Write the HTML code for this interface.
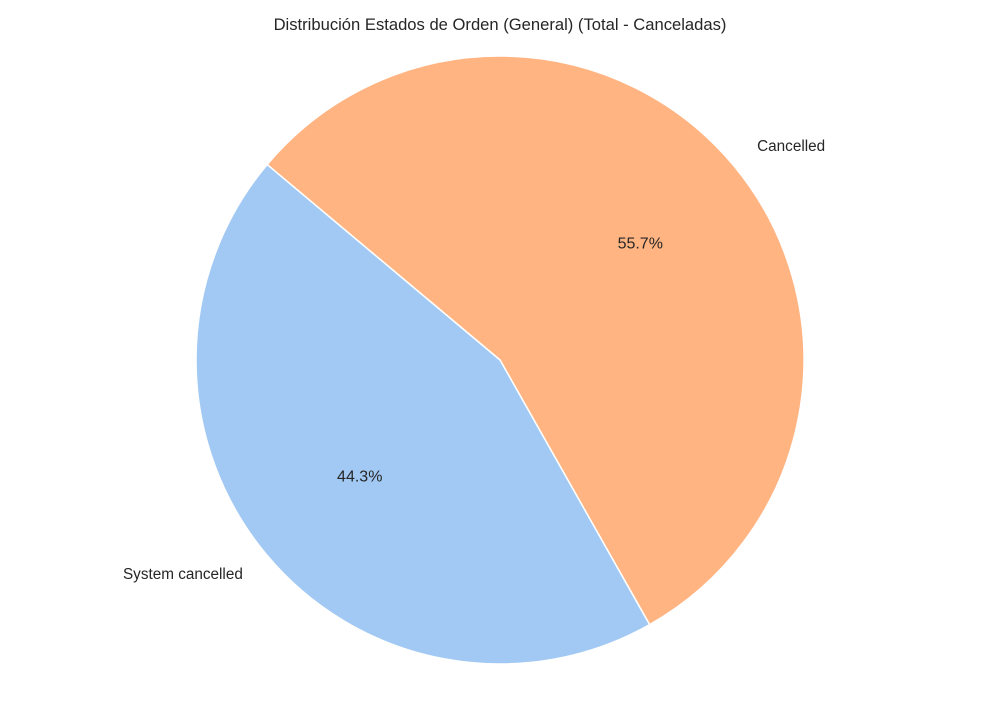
<!DOCTYPE html>
<html><head><meta charset="utf-8"><style>
body{margin:0;background:#fff;}
svg text{font-family:"Liberation Sans",sans-serif;fill:#262626;}
</style></head><body>
<svg id="chart" width="1000" height="700">
<text x="500" y="30" text-anchor="middle" font-size="16.6">Distribución Estados de Orden (General) (Total - Canceladas)</text>
<g id="slices"></g>
</svg>
<script>
const categories = ["Cancelled", "System cancelled"];
const values = [55.7, 44.3];
const colors = ["#ffb482", "#a1c9f4"];
const cx = 500, cy = 360, R = 304, startAngle = 140;
const ns = "http://www.w3.org/2000/svg";
const g = document.getElementById("slices");
const total = values.reduce((a,b)=>a+b,0);
let a0 = startAngle;
function pt(deg, r){const t=deg*Math.PI/180;return [cx+r*Math.cos(t), cy-r*Math.sin(t)];}
values.forEach((v,i)=>{
  const sweep = v/total*360;
  const a1 = a0 - sweep;
  const p0 = pt(a0,R), p1 = pt(a1,R);
  const path = document.createElementNS(ns,"path");
  path.setAttribute("d",`M${cx},${cy} L${p0[0]},${p0[1]} A${R},${R} 0 ${sweep>180?1:0} 1 ${p1[0]},${p1[1]} Z`);
  path.setAttribute("fill",colors[i]);
  path.setAttribute("stroke","#fff");
  path.setAttribute("stroke-width","1.5");
  
  
  g.appendChild(path);
  const mid = (a0+a1)/2;
  const lp = pt(mid, R*1.1);
  const lab = document.createElementNS(ns,"text");
  lab.setAttribute("x",lp[0]); lab.setAttribute("y",lp[1]+5);
  lab.setAttribute("font-size","15.3");
  lab.setAttribute("text-anchor", Math.cos(mid*Math.PI/180)>=0?"start":"end");
  lab.textContent = categories[i];
  
  
  g.appendChild(lab);
  const pp = pt(mid, R*0.6);
  const pc = document.createElementNS(ns,"text");
  pc.setAttribute("x",pp[0]); pc.setAttribute("y",pp[1]+5);
  pc.setAttribute("font-size","16");
  pc.setAttribute("text-anchor","middle");
  pc.textContent = (v/total*100).toFixed(1)+"%";
  
  
  g.appendChild(pc);
  a0 = a1;
});
</script>
</body></html>
